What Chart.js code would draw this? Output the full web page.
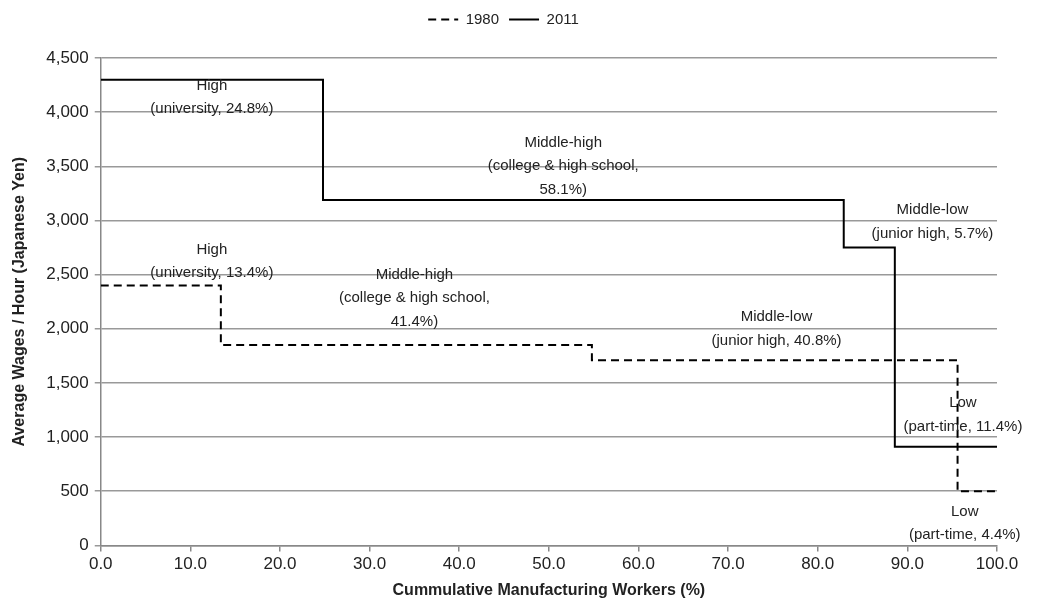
<!DOCTYPE html>
<html>
<head>
<meta charset="utf-8">
<script src="https://cdn.jsdelivr.net/npm/chart.js@4.4.1/dist/chart.umd.min.js"></script>
<style>
  html, body { margin: 0; padding: 0; background: #fff; }
  #wrap { width: 1051px; height: 611px; }
</style>
</head>
<body>
<div id="wrap"><canvas id="wageChart"></canvas></div>
<script>
// share of workers per education group (%), and hourly wage (yen)
const groups = ['High', 'Middle-high', 'Middle-low', 'Low'];
const shares1980 = [13.4, 41.4, 40.8, 4.4];
const wages1980 = [2400, 1850, 1710, 500];
const shares2011 = [24.8, 58.1, 5.7, 11.4];
const wages2011 = [4300, 3190, 2750, 910];
const yTicks = [0, 500, 1000, 1500, 2000, 2500, 3000, 3500, 4000, 4500];
const xTicks = [0, 10, 20, 30, 40, 50, 60, 70, 80, 90, 100];

// turn shares into cumulative step points
function steps(shares, wages) {
    const pts = [];
    let cum = 0;
    shares.forEach((s, i) => {
        pts.push({x: cum, y: wages[i]});
        cum += s;
    });
    pts.push({x: cum, y: wages[wages.length - 1]});
    return pts;
}

// label text, anchored in data units
const notes = [
    {x: 12.4, y: 4245, lines: ['High', '(university, 24.8%)']},
    {x: 51.6, y: 3720, lines: ['Middle-high', '(college & high school,', '58.1%)']},
    {x: 92.8, y: 3095, lines: ['Middle-low', '(junior high, 5.7%)']},
    {x: 12.4, y: 2730, lines: ['High', '(university, 13.4%)']},
    {x: 35.0, y: 2500, lines: ['Middle-high', '(college & high school,', '41.4%)']},
    {x: 75.4, y: 2110, lines: ['Middle-low', '(junior high, 40.8%)']},
    {x: 96.2, y: 1315, lines: ['Low', '(part-time, 11.4%)']},
    {x: 96.4, y: 310, lines: ['Low', '(part-time, 4.4%)']}
];

const FONT = '"Liberation Sans", Arial, sans-serif';

const notePlugin = {
    id: 'notes',
    afterDatasetsDraw(chart) {
        const ctx = chart.ctx;
        const xs = chart.scales.x, ys = chart.scales.y;
        ctx.save();
        ctx.font = '15px ' + FONT;
        ctx.fillStyle = '#222';
        ctx.textAlign = 'center';
        ctx.textBaseline = 'middle';
        notes.forEach(n => {
            const px = xs.getPixelForValue(n.x);
            const py = ys.getPixelForValue(n.y);
            n.lines.forEach((t, i) => ctx.fillText(t, px, py + i * 23.5));
        });
        ctx.restore();
    }
};

// extra room under the legend
const legendGap = {
    id: 'legendGap',
    beforeInit(chart) {
        const fit = chart.legend.fit;
        chart.legend.fit = function () {
            fit.bind(chart.legend)();
            this.height += 21;
        };
    }
};

const ctx = document.getElementById('wageChart');

new Chart(ctx, {
    type: 'scatter',
    data: {
        datasets: [{
            label: '1980',
            data: steps(shares1980, wages1980),
            showLine: true,
            stepped: 'before',
            borderColor: '#000',
            borderWidth: 2,
            borderDash: [8, 5],
            pointRadius: 0
        }, {
            label: '2011',
            data: steps(shares2011, wages2011),
            showLine: true,
            stepped: 'before',
            borderColor: '#000',
            borderWidth: 2,
            pointRadius: 0
        }]
    },
    options: {
        responsive: true,
        maintainAspectRatio: false,
        animation: false,
        layout: { padding: { top: 2, right: 54, left: 10, bottom: 7 } },
        plugins: {
            legend: {
                position: 'top',
                labels: {
                    usePointStyle: true,
                    pointStyleWidth: 30,
                    boxWidth: 30,
                    boxHeight: 2,
                    padding: 10,
                    color: '#222',
                    font: { family: FONT, size: 15 },
                    generateLabels: chart => chart.data.datasets.map((ds, i) => ({
                        text: ds.label,
                        datasetIndex: i,
                        pointStyle: 'line',
                        strokeStyle: '#000',
                        fillStyle: '#000',
                        lineWidth: 2,
                        lineDash: ds.borderDash || [],
                        fontColor: '#222'
                    }))
                }
            },
            tooltip: { enabled: false }
        },
        scales: {
            x: {
                type: 'linear',
                min: 0,
                max: 100,
                afterBuildTicks: axis => { axis.ticks = xTicks.map(v => ({value: v})); },
                ticks: {
                    color: '#222',
                    font: { family: FONT, size: 17 },
                    callback: v => v.toFixed(1),
                    maxRotation: 0,
                    padding: 3
                },
                grid: { drawOnChartArea: false, color: '#888', lineWidth: 1.5, tickLength: 6 },
                border: { color: '#888', width: 1.5 },
                title: {
                    display: true,
                    text: 'Cummulative Manufacturing Workers (%)',
                    color: '#222',
                    font: { family: FONT, size: 16, weight: 'bold' },
                    padding: { top: 3 }
                }
            },
            y: {
                min: 0,
                max: 4500,
                afterBuildTicks: axis => { axis.ticks = yTicks.map(v => ({value: v})); },
                ticks: {
                    color: '#222',
                    font: { family: FONT, size: 17 },
                    callback: v => v.toLocaleString('en-US'),
                    padding: 6
                },
                grid: { color: '#999', lineWidth: 1.5, tickLength: 6 },
                border: { color: '#888', width: 1.5 },
                title: {
                    display: true,
                    text: 'Average Wages / Hour (Japanese Yen)',
                    color: '#222',
                    font: { family: FONT, size: 16, weight: 'bold' },
                    padding: { top: 0, bottom: 11 }
                }
            }
        }
    },
    plugins: [notePlugin, legendGap]
});
</script>
</body>
</html>
